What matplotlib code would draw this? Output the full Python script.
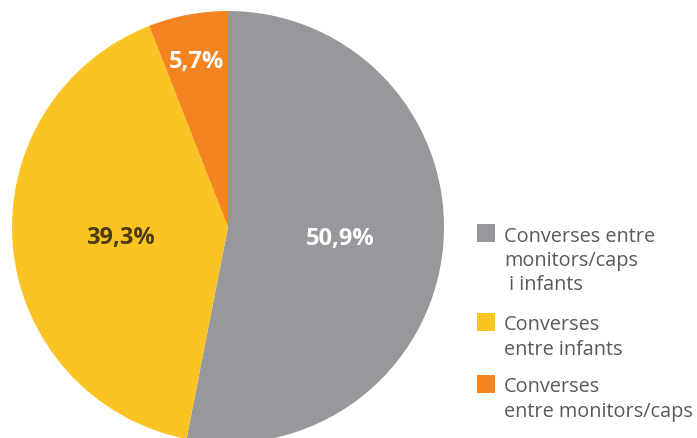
import matplotlib
matplotlib.use("Agg")
import matplotlib.pyplot as plt
from matplotlib.patches import Rectangle
import numpy as np

categories = ["Converses entre\nmonitors/caps\n i infants",
              "Converses\nentre infants",
              "Converses\nentre monitors/caps"]
values = [50.9, 39.3, 5.7]
value_labels = ["50,9%", "39,3%", "5,7%"]
colors = ["#97989b", "#fbc323", "#f48422"]
label_colors = ["#ffffff", "#4b3d0e", "#ffffff"]
label_dist = [0.52, 0.50, 0.78]

plt.rcParams['font.family'] = ['Open Sans', 'DejaVu Sans']

W, H = 697, 439
fig = plt.figure(figsize=(W / 100, H / 100), dpi=100)
ax = fig.add_axes([0, 0, 1, 1])

cx, cy, r = 228, H - 228, 216
wedges, _ = ax.pie(values, colors=colors, startangle=90, counterclock=False,
                   center=(cx, cy), radius=r,
                   wedgeprops=dict(linewidth=0))
for w, lab, lc, d in zip(wedges, value_labels, label_colors, label_dist):
    mid = np.deg2rad((w.theta1 + w.theta2) / 2)
    ax.text(cx + d * r * np.cos(mid), cy + d * r * np.sin(mid), lab,
            ha='center', va='center', fontsize=17, fontweight='bold', color=lc)

ax.set_xlim(0, W)
ax.set_ylim(0, H)
ax.set_aspect('equal')
ax.axis('off')

# legend
sq_x, sq = 477, 18
tops = [225, 314, 376]
for cat, col, top in zip(categories, colors, tops):
    ax.add_patch(Rectangle((sq_x, H - top - sq), sq, sq, facecolor=col,
                           edgecolor='none', clip_on=False))
    ax.text(504, H - top - 1.5, cat, ha='left', va='top', fontsize=14.3,
            color='#58595b', linespacing=1.28)

fig.savefig("out.png", dpi=100)
